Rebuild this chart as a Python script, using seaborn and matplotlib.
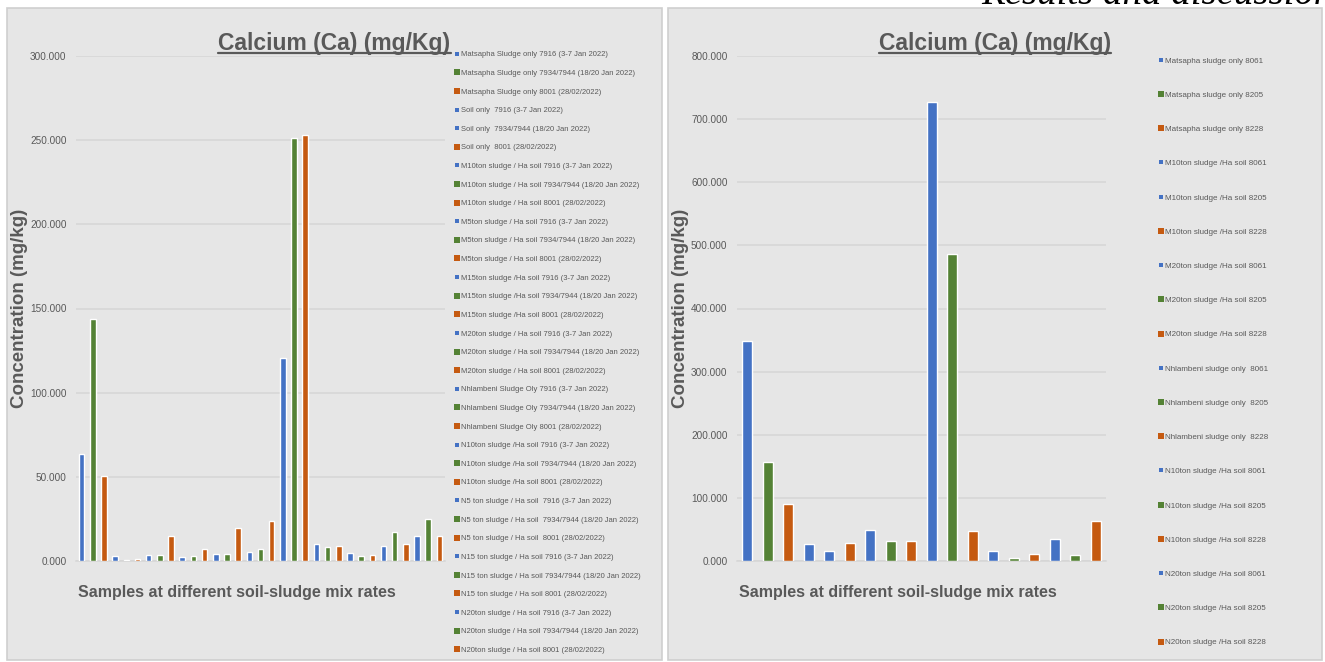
import numpy as np
import pandas as pd
import matplotlib
matplotlib.use("Agg")
import matplotlib.pyplot as plt
import seaborn as sns
from matplotlib.lines import Line2D
from matplotlib.patches import Rectangle
from matplotlib.ticker import FuncFormatter, MultipleLocator

# ---------------- data ----------------
left_labels = [
    "Matsapha Sludge only 7916 (3-7 Jan 2022)",
    "Matsapha Sludge only 7934/7944 (18/20 Jan 2022)",
    "Matsapha Sludge only 8001 (28/02/2022)",
    "Soil only  7916 (3-7 Jan 2022)",
    "Soil only  7934/7944 (18/20 Jan 2022)",
    "Soil only  8001 (28/02/2022)",
    "M10ton sludge / Ha soil 7916 (3-7 Jan 2022)",
    "M10ton sludge / Ha soil 7934/7944 (18/20 Jan 2022)",
    "M10ton sludge / Ha soil 8001 (28/02/2022)",
    "M5ton sludge / Ha soil 7916 (3-7 Jan 2022)",
    "M5ton sludge / Ha soil 7934/7944 (18/20 Jan 2022)",
    "M5ton sludge / Ha soil 8001 (28/02/2022)",
    "M15ton sludge /Ha soil 7916 (3-7 Jan 2022)",
    "M15ton sludge /Ha soil 7934/7944 (18/20 Jan 2022)",
    "M15ton sludge /Ha soil 8001 (28/02/2022)",
    "M20ton sludge / Ha soil 7916 (3-7 Jan 2022)",
    "M20ton sludge / Ha soil 7934/7944 (18/20 Jan 2022)",
    "M20ton sludge / Ha soil 8001 (28/02/2022)",
    "Nhlambeni Sludge Oly 7916 (3-7 Jan 2022)",
    "Nhlambeni Sludge Oly 7934/7944 (18/20 Jan 2022)",
    "Nhlambeni Sludge Oly 8001 (28/02/2022)",
    "N10ton sludge /Ha soil 7916 (3-7 Jan 2022)",
    "N10ton sludge /Ha soil 7934/7944 (18/20 Jan 2022)",
    "N10ton sludge /Ha soil 8001 (28/02/2022)",
    "N5 ton sludge / Ha soil  7916 (3-7 Jan 2022)",
    "N5 ton sludge / Ha soil  7934/7944 (18/20 Jan 2022)",
    "N5 ton sludge / Ha soil  8001 (28/02/2022)",
    "N15 ton sludge / Ha soil 7916 (3-7 Jan 2022)",
    "N15 ton sludge / Ha soil 7934/7944 (18/20 Jan 2022)",
    "N15 ton sludge / Ha soil 8001 (28/02/2022)",
    "N20ton sludge / Ha soil 7916 (3-7 Jan 2022)",
    "N20ton sludge / Ha soil 7934/7944 (18/20 Jan 2022)",
    "N20ton sludge / Ha soil 8001 (28/02/2022)",
]
left_values = [63.5, 144.0, 50.6, 3.0, 0.6, 1.0, 3.4, 3.4, 14.6, 2.2, 2.8,
               6.9, 4.0, 4.0, 19.8, 5.1, 7.3, 23.7, 120.4, 251.0, 253.0,
               9.9, 8.1, 9.1, 4.7, 2.8, 3.4, 9.1, 17.0, 10.3, 14.8, 24.9, 14.8]
left_series_colour = ["blue", "green", "orange", "blue", "blue", "orange"] + \
    ["blue", "green", "orange"] * 9

right_labels = [
    "Matsapha sludge only 8061",
    "Matsapha sludge only 8205",
    "Matsapha sludge only 8228",
    "M10ton sludge /Ha soil 8061",
    "M10ton sludge /Ha soil 8205",
    "M10ton sludge /Ha soil 8228",
    "M20ton sludge /Ha soil 8061",
    "M20ton sludge /Ha soil 8205",
    "M20ton sludge /Ha soil 8228",
    "Nhlambeni sludge only  8061",
    "Nhlambeni sludge only  8205",
    "Nhlambeni sludge only  8228",
    "N10ton sludge /Ha soil 8061",
    "N10ton sludge /Ha soil 8205",
    "N10ton sludge /Ha soil 8228",
    "N20ton sludge /Ha soil 8061",
    "N20ton sludge /Ha soil 8205",
    "N20ton sludge /Ha soil 8228",
]
right_values = [348.8, 157.3, 89.7, 27.4, 15.8, 29.0, 49.6, 31.7, 31.7,
                727.5, 485.7, 48.0, 15.8, 4.7, 11.1, 34.3, 9.0, 62.8]
right_series_colour = ["blue", "green", "orange", "blue", "blue", "orange"] + \
    ["blue", "green", "orange"] * 4

title_text = "Calcium (Ca) (mg/Kg)"
y_title = "Concentration (mg/kg)"
x_title = "Samples at different soil-sludge mix rates"
page_heading = "Results and discussion"

# ---------------- style ----------------
COLOURS = {"blue": "#4472C4", "green": "#548235", "orange": "#C55A11"}
GREY_TXT = "#595959"
PANEL_BG = "#e6e6e6"
PANEL_EDGE = "#cfcfcf"
GRID = "#d6d6d6"

sns.set_theme(style="white")
plt.rcParams["font.family"] = ["Liberation Sans", "DejaVu Sans"]

W, H = 1325, 662
fig = plt.figure(figsize=(W / 100, H / 100), dpi=100)
fig.patch.set_facecolor("white")


def fx(px):
    return px / W


def fy(py):
    return 1 - py / H


# panel backgrounds
for x0, x1 in [(7, 662), (668, 1322)]:
    fig.patches.append(Rectangle((fx(x0), fy(660)), fx(x1 - x0), (660 - 8) / H,
                                 transform=fig.transFigure, facecolor=PANEL_BG,
                                 edgecolor=PANEL_EDGE, linewidth=1.2, zorder=-5))


def make_panel(ax_left_px, labels, values, colour_names, ymax, ystep,
               title_cx, ylab_cx, legend_x, legend_y_top, legend_spacing, legend_fs):
    ax = fig.add_axes([fx(ax_left_px), fy(561), fx(369), (561 - 56) / H])
    ax.set_facecolor("none")
    df = pd.DataFrame({"sample": labels, "value": values})
    pal = {lab: COLOURS[c] for lab, c in zip(labels, colour_names)}
    sns.barplot(data=df, x="sample", y="value", hue="sample", order=labels,
                hue_order=labels, palette=pal, saturation=1, width=0.5,
                dodge=False, legend=False, ax=ax, zorder=3)
    ax.set_xlim(-0.5, len(labels) - 0.5)
    ax.set_ylim(0, ymax)
    ax.yaxis.set_major_locator(MultipleLocator(ystep))
    ax.yaxis.set_major_formatter(FuncFormatter(lambda v, p: f"{v:.3f}"))
    ax.grid(axis="y", color=GRID, linewidth=1.1, zorder=0)
    ax.set_axisbelow(True)
    ax.set_xticks([])
    for s in ["top", "right", "left"]:
        ax.spines[s].set_visible(False)
    ax.spines["bottom"].set_color(GRID)
    ax.spines["bottom"].set_linewidth(1.1)
    ax.tick_params(axis="y", length=0, pad=6.8, labelsize=7.2, labelcolor=GREY_TXT)
    ax.set_ylabel(y_title, fontsize=13.5, fontweight="bold", color=GREY_TXT,
                  va="center")
    ax.yaxis.set_label_coords((ylab_cx - ax_left_px) / 369, 0.5)
    ax.set_xlabel(x_title, fontsize=11.5, fontweight="bold", color=GREY_TXT,
                  ha="left", va="center")
    ax.xaxis.set_label_coords(0.006, -0.062)

    # title with underline
    t = fig.text(fx(title_cx), fy(50), title_text, ha="center", va="baseline",
                 fontsize=16.5, fontweight="bold", color=GREY_TXT)
    fig.canvas.draw()
    bb = t.get_window_extent(renderer=fig.canvas.get_renderer())
    fig.add_artist(Line2D([bb.x0 / W, bb.x1 / W], [fy(53), fy(53)],
                          transform=fig.transFigure, color=GREY_TXT, linewidth=1.6))

    # legend
    handles = [Line2D([], [], linestyle="none", marker="s",
                      markersize=3.2 if c == "blue" else 4.6,
                      markerfacecolor=COLOURS[c], markeredgewidth=0)
               for c in colour_names]
    fig.legend(handles, labels, loc="upper left",
               bbox_to_anchor=(fx(legend_x), fy(legend_y_top)),
               frameon=False, fontsize=legend_fs, labelcolor=GREY_TXT,
               handlelength=0.6, handletextpad=0.15, borderpad=0,
               borderaxespad=0, labelspacing=legend_spacing)
    return ax


make_panel(76, left_labels, left_values, left_series_colour, 300, 50,
           334.5, 20, 455, 51, 1.475, 5.5)
make_panel(737, right_labels, right_values, right_series_colour, 800, 100,
           995, 680, 1159, 57, 3.3, 5.8)

fig.text(fx(1334), fy(4), page_heading, ha="right", va="baseline", fontsize=28,
         style="italic", family=["Liberation Serif", "DejaVu Serif"], color="black")

fig.savefig("out.png", dpi=100, facecolor="white")
